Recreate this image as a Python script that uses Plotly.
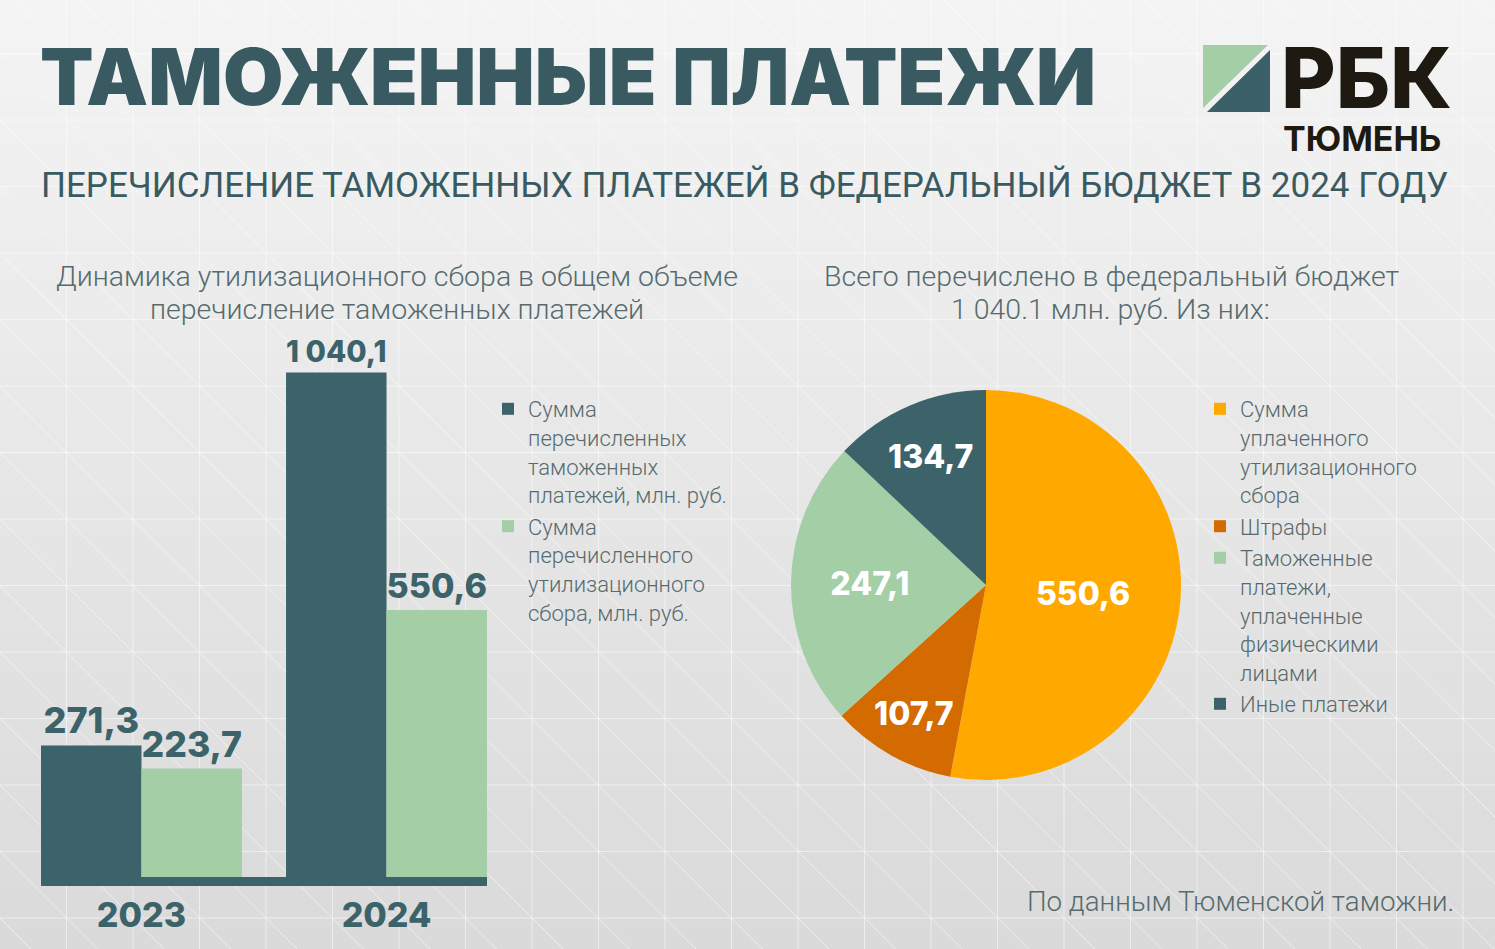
import plotly.graph_objects as go

# ---------------- data ----------------
years = ["2023", "2024"]
total_payments = [271.3, 1040.1]      # Сумма перечисленных таможенных платежей
util_fee = [223.7, 550.6]             # Сумма перечисленного утилизационного сбора
bar_names = [
    "Сумма<br>перечисленных<br>таможенных<br>платежей, млн. руб.",
    "Сумма<br>перечисленного<br>утилизационного<br>сбора, млн. руб.",
]

pie_labels = [
    "Сумма<br>уплаченного<br>утилизационного<br>сбора",
    "Штрафы",
    "Таможенные<br>платежи,<br>уплаченные<br>физическими<br>лицами",
    "Иные платежи",
]
pie_values = [550.6, 107.7, 247.1, 134.7]

# ---------------- style ----------------
W, H = 1495, 949
DARK = "#3b6369"
LIGHT = "#a4cea6"
ORANGE = "#ffa800"
DORANGE = "#d46b00"
TITLE_C = "#3a5a61"
GRAY = "#566b6e"
HEAVY = "Inter, Roboto, sans-serif"
THIN = "Roboto, Inter, sans-serif"


def px(x):
    return x / W


def py(y):
    return 1 - y / H


def fmt(v):
    return f"{v:,.1f}".replace(",", " ").replace(".", ",")


fig = go.Figure()

fig.add_bar(
    x=years, y=total_payments, name=bar_names[0], marker_color=DARK,
    marker_line_width=0,
    text=[fmt(v) for v in total_payments], textposition="outside",
    textfont=dict(family=HEAVY, size=36, color=DARK, weight=800),
    cliponaxis=False, legend="legend", legendgroup="a", hoverinfo="skip",
)
fig.add_bar(
    x=years, y=util_fee, name=bar_names[1], marker_color=LIGHT,
    marker_line_width=0,
    text=[fmt(v) for v in util_fee], textposition="outside",
    textfont=dict(family=HEAVY, size=36, color=DARK, weight=800),
    cliponaxis=False, legend="legend", legendgroup="b", hoverinfo="skip",
)

fig.add_pie(
    labels=pie_labels, values=pie_values, sort=False, direction="clockwise",
    rotation=0, marker=dict(colors=[ORANGE, DORANGE, LIGHT, DARK], line=dict(width=0)),
    text=[fmt(v) for v in pie_values], textinfo="text",
    insidetextorientation="horizontal",
    textfont=dict(family=HEAVY, size=32, color="white", weight=800),
    domain=dict(x=[px(791), px(1181)], y=[py(780), py(390)]),
    legend="legend2", hoverinfo="skip",
)

# ---------------- background (gradient + faint grid) ----------------
shapes = []
n_bands = 48
top_c = (244, 244, 244)
bot_c = (218, 218, 218)
for i in range(n_bands):
    t = i / (n_bands - 1)
    c = tuple(round(top_c[k] + (bot_c[k] - top_c[k]) * t) for k in range(3))
    shapes.append(dict(type="rect", xref="paper", yref="paper", layer="below",
                       x0=0, x1=1, y0=1 - (i + 1) / n_bands - 0.002, y1=1 - i / n_bands,
                       fillcolor=f"rgb{c}", line=dict(width=0)))
step = 66.5
grid_line = dict(color="rgba(255,255,255,0.5)", width=1)
k = 1
while k * step < W:
    x = k * step
    shapes.append(dict(type="line", xref="paper", yref="paper", layer="below",
                       x0=px(x), x1=px(x), y0=0, y1=1, line=grid_line))
    k += 1
y = 53.5 - step
while y < H:
    if y > 0:
        shapes.append(dict(type="line", xref="paper", yref="paper", layer="below",
                           x0=0, x1=1, y0=py(y), y1=py(y), line=grid_line))
    y += step
c = -53.5 - 15 * step
while c < W:
    # line x - y = c  (going down-right)
    x0, y0 = c, 0
    x1, y1 = c + H, H
    shapes.append(dict(type="line", xref="paper", yref="paper", layer="below",
                       x0=px(x0), x1=px(x1), y0=py(y0), y1=py(y1), line=grid_line))
    c += step

# ---------------- logo ----------------
shapes.append(dict(type="path", xref="paper", yref="paper", layer="above",
                   path=f"M {px(1203)},{py(45)} L {px(1268)},{py(45)} L {px(1203)},{py(108)} Z",
                   fillcolor=LIGHT, line=dict(width=0)))
shapes.append(dict(type="path", xref="paper", yref="paper", layer="above",
                   path=f"M {px(1270)},{py(50)} L {px(1270)},{py(112)} L {px(1207)},{py(112)} Z",
                   fillcolor="#3b6068", line=dict(width=0)))

annotations = [
    dict(text="ТАМОЖЕННЫЕ ПЛАТЕЖИ", x=px(38), y=py(76), xanchor="left", yanchor="middle",
         font=dict(family=HEAVY, size=78, color=TITLE_C, weight=900)),
    dict(text="ПЕРЕЧИСЛЕНИЕ ТАМОЖЕННЫХ ПЛАТЕЖЕЙ В ФЕДЕРАЛЬНЫЙ БЮДЖЕТ В 2024 ГОДУ",
         x=px(39), y=py(185), xanchor="left", yanchor="middle",
         font=dict(family=THIN, size=35, color=TITLE_C, weight=400)),
    dict(text="Динамика утилизационного сбора в общем объеме", x=px(397), y=py(276),
         xanchor="center", yanchor="middle", font=dict(family=THIN, size=28.5, color=GRAY, weight=300)),
    dict(text="перечисление таможенных платежей", x=px(397), y=py(309),
         xanchor="center", yanchor="middle", font=dict(family=THIN, size=28.5, color=GRAY, weight=300)),
    dict(text="Всего перечислено в федеральный бюджет", x=px(1111), y=py(276),
         xanchor="center", yanchor="middle", font=dict(family=THIN, size=28.5, color=GRAY, weight=300)),
    dict(text="1 040.1 млн. руб. Из них:", x=px(1110), y=py(309),
         xanchor="center", yanchor="middle", font=dict(family=THIN, size=28.5, color=GRAY, weight=300)),
    dict(text="По данным Тюменской таможни.", x=px(1456), y=py(901),
         xanchor="right", yanchor="middle", font=dict(family=THIN, size=27.7, color=GRAY, weight=300)),
    dict(text="РБК", x=px(1279), y=py(77), xanchor="left", yanchor="middle", height=74,
         font=dict(family=HEAVY, size=84, color="#1e1a12", weight=800)),
    dict(text="ТЮМЕНЬ", x=px(1281), y=py(138), xanchor="left", yanchor="middle", height=34,
         font=dict(family=HEAVY, size=34, color="#1e1a12", weight=700)),
]
for a in annotations:
    a.update(xref="paper", yref="paper", showarrow=False)

k_scale = 0.485  # px per value unit
y_top = 1100
legend_font = dict(family=THIN, size=22, color=GRAY, weight=300)
fig.update_layout(
    width=W, height=H,
    margin=dict(l=0, r=0, t=0, b=0),
    paper_bgcolor="#e8e8e8", plot_bgcolor="rgba(0,0,0,0)",
    barmode="group", bargap=0.18, bargroupgap=0,
    xaxis=dict(domain=[px(41), px(487)], type="category", range=[-0.41, 1.41],
               showline=True, linewidth=9, linecolor=DARK, showgrid=False, zeroline=False,
               ticks="", ticklabelstandoff=0,
               tickfont=dict(family=HEAVY, size=34, color=DARK, weight=800), fixedrange=True),
    yaxis=dict(domain=[py(877), py(877) + y_top * k_scale / H], range=[0, y_top],
               visible=False, fixedrange=True),
    legend=dict(x=px(488), y=py(388), xanchor="left", yanchor="top",
                font=legend_font,
                bgcolor="rgba(0,0,0,0)", valign="top", traceorder="grouped",
                tracegroupgap=0, itemclick=False, itemdoubleclick=False),
    legend2=dict(x=px(1200), y=py(388), xanchor="left", yanchor="top",
                 font=legend_font,
                 bgcolor="rgba(0,0,0,0)", valign="top",
                 itemclick=False, itemdoubleclick=False),
    shapes=shapes, annotations=annotations,
    showlegend=True,
)

fig.write_html("out.html", config={"displayModeBar": False},
               post_script="document.body.style.margin='0';document.body.style.overflow='hidden';")
